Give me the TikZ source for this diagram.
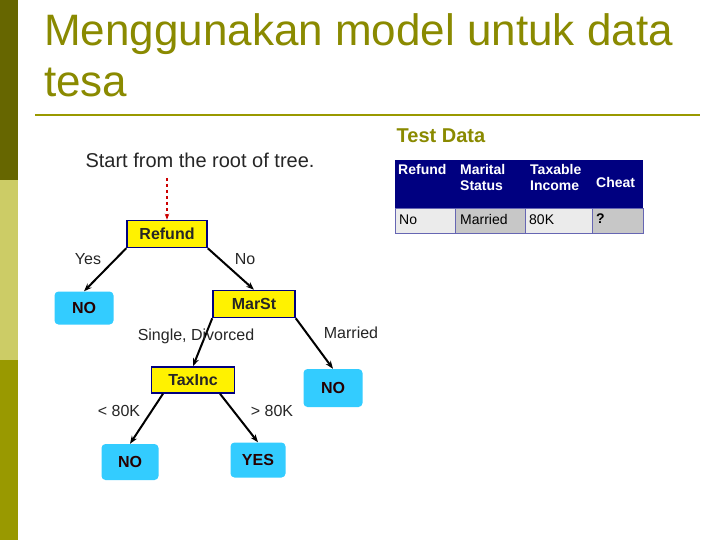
\documentclass[tikz,border=0pt]{standalone}
\usepackage{fontspec}
\setmainfont{Liberation Sans}
\usetikzlibrary{arrows.meta}
\definecolor{olive}{HTML}{999900}
\definecolor{olivedark}{HTML}{666600}
\definecolor{olivelight}{HTML}{CCCC66}
\definecolor{navy}{HTML}{000080}
\definecolor{leaf}{HTML}{33CCFF}
\begin{document}
\begin{tikzpicture}[x=1pt,y=-1pt,
  split/.style={draw=navy,line width=1.5pt,fill=yellow,text=black!85,font=\bfseries\fontsize{16}{18}\selectfont,minimum height=27,inner sep=0},
  leafbox/.style={fill=leaf,rounded corners=4pt,text=black!85!red,font=\bfseries\fontsize{16}{18}\selectfont,inner sep=0},
  edge/.style={line width=2pt,-{Stealth[length=8pt]}},
  lbl/.style={font=\fontsize{16}{18}\selectfont,text=black!85},
  ttl/.style={anchor=base west,text=olive!90!black,font=\fontsize{44}{51}\selectfont,inner sep=0},
  hdr/.style={fill=navy,text=white,font=\bfseries\fontsize{14}{16}\selectfont,align=left,anchor=north west,inner sep=0},
  cell/.style={draw=navy!60,anchor=north west,inner sep=0},
  ctext/.style={anchor=base west,font=\fontsize{14}{16}\selectfont,inner sep=0}]
\useasboundingbox (0,0) rectangle (720,540);
\fill[white] (0,0) rectangle (720,540);
\fill[olivedark] (0,0) rectangle (18,180);
\fill[olivelight] (0,180) rectangle (18,360);
\fill[olive] (0,360) rectangle (18,540);
\node[ttl] (title1) at (44,46) {Menggunakan model untuk data};
\node[ttl] (title2) at (44,97) {tesa};
\draw[olive,line width=2.5pt] (35,115) -- (700,115);
\node[text=olive!90!black,font=\bfseries\fontsize{20}{22}\selectfont] (td) at (441,136) {Test Data};
\node[lbl,font=\fontsize{20}{22}\selectfont] (start) at (200,160) {Start from the root of tree.};
% table
\fill[navy] (395,160) rectangle (643,208);
\node[hdr] (h1) at (398,164) {Refund};
\node[hdr] (h2) at (460,164) {Marital\\Status};
\node[hdr] (h3) at (530,164) {Taxable\\Income};
\node[hdr] (h4) at (596,177) {Cheat};
\node[cell,fill=black!8,minimum width=60,minimum height=25] (c1) at (395,208) {};
\node[cell,fill=black!22,minimum width=70,minimum height=25] (c2) at (455,208) {};
\node[cell,fill=black!8,minimum width=67,minimum height=25] (c3) at (525,208) {};
\node[cell,fill=black!22,minimum width=51,minimum height=25] (c4) at (592,208) {};
\node[ctext] (t1) at (399,225) {No};
\node[ctext] (t2) at (460,225) {Married};
\node[ctext] (t3) at (529,225) {80K};
\node[ctext,font=\bfseries\fontsize{14}{16}\selectfont] (t4) at (596,223) {?};
% tree
\node[split,minimum width=80] (refund) at (167,234) {Refund};
\node[leafbox,minimum width=59,minimum height=33] (no1) at (84,308) {NO};
\node[split,minimum width=82] (marst) at (254,304) {MarSt};
\node[split,minimum width=83,minimum height=26] (taxinc) at (193,380) {TaxInc};
\node[leafbox,minimum width=59,minimum height=38] (no2) at (333,388) {NO};
\node[leafbox,minimum width=57,minimum height=36] (no3) at (130,462) {NO};
\node[leafbox,minimum width=55,minimum height=35] (yes) at (258,460) {YES};
\coordinate (rs) at (167,178);
\draw[red!80!black,line width=1.5pt,dashed,-{Stealth[length=6pt]}] (rs) -- (refund.north);
\draw[edge] (refund.south west) -- (no1.north);
\draw[edge] (refund.south east) -- (marst.north);
\draw[edge] (marst.south west) -- (taxinc.north);
\draw[edge] (marst.south east) -- (no2.north);
\draw[edge] ([xshift=-30]taxinc.south) -- (no3.north);
\draw[edge] ([xshift=27]taxinc.south) -- (yes.north);
\node[lbl] (l1) at (88,259) {Yes};
\node[lbl] (l2) at (245,259) {No};
\node[lbl] (l3) at (196,336) {Single, Divorced};
\node[lbl] (l4) at (351,333) {Married};
\node[lbl] (l5) at (119,411) {< 80K};
\node[lbl] (l6) at (272,411) {> 80K};
\end{tikzpicture}
\end{document}
